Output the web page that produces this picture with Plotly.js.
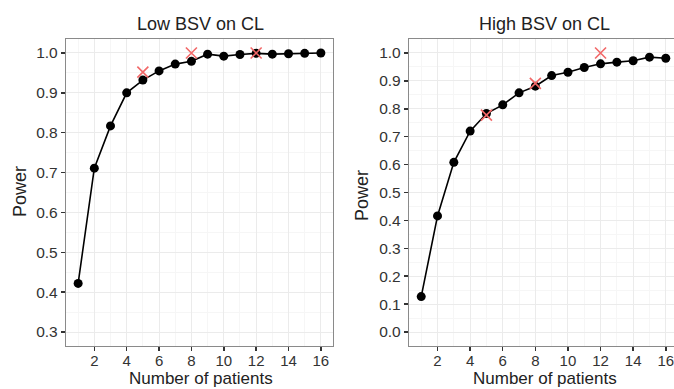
<!DOCTYPE html>
<html>
<head>
<meta charset="utf-8">
<script src="https://cdn.plot.ly/plotly-3.0.1.min.js"></script>
<style>
html,body{margin:0;padding:0;overflow:hidden;background:#fff;}
#chart{width:680px;height:389px;}
</style>
</head>
<body>
<div id="chart"></div>
<script>
// Data
const patients = [1,2,3,4,5,6,7,8,9,10,11,12,13,14,15,16];
const powerLow = [0.422,0.711,0.817,0.900,0.932,0.955,0.972,0.979,0.997,0.992,0.996,0.999,0.997,0.998,0.999,1.000];
const powerHigh = [0.127,0.416,0.608,0.720,0.783,0.814,0.857,0.881,0.919,0.931,0.948,0.961,0.967,0.972,0.985,0.981];
const crossN = [5,8,12];
const crossLow = [0.952,1.000,1.000];
const crossHigh = [0.777,0.891,1.000];
const panelTitles = ["Low BSV on CL","High BSV on CL"];
const xTitle = "Number of patients";
const yTitle = "Power";

const W = 680, H = 389;
const lineStyle = {color:'#000', width:1.6};
const ptStyle = {color:'#000', size:9};
const crossStyle = {color:'#f26868', size:11, symbol:'x-thin', line:{color:'#f26868', width:1.6}};

const traces = [
  {x:patients, y:powerLow, mode:'lines+markers', line:lineStyle, marker:ptStyle, xaxis:'x', yaxis:'y'},
  {x:crossN, y:crossLow, mode:'markers', marker:crossStyle, xaxis:'x', yaxis:'y'},
  {x:patients, y:powerHigh, mode:'lines+markers', line:lineStyle, marker:ptStyle, xaxis:'x2', yaxis:'y2'},
  {x:crossN, y:crossHigh, mode:'markers', marker:crossStyle, xaxis:'x2', yaxis:'y2'}
];

const tickFont = {family:'Liberation Sans, Arial, sans-serif', size:15.5, color:'#333'};
const xTickFont = {family:'Liberation Sans, Arial, sans-serif', size:15, color:'#333'};
const titleFont = {family:'Liberation Sans, Arial, sans-serif', size:18, color:'#222'};
const xTitleFont = {family:'Liberation Sans, Arial, sans-serif', size:17, color:'#222'};

function xAx(domain, anchor){
  return {domain:domain, anchor:anchor, range:[0.25,16.75], tickvals:[2,4,6,8,10,12,14,16],
    ticks:'outside', ticklen:4, tickwidth:1.5, tickcolor:'#333', tickfont:xTickFont, ticklabelstandoff:-3,
    showgrid:true, gridcolor:'#ebebeb', gridwidth:1, zeroline:false,
    minor:{tickvals:[1,3,5,7,9,11,13,15], showgrid:true, gridcolor:'#f6f6f6', gridwidth:1, ticks:''},
    showline:true, mirror:true, linecolor:'#8a8a8a', linewidth:1.2, automargin:false, fixedrange:true};
}
function yAx(domain, anchor, range, vals, minorVals){
  return {domain:domain, anchor:anchor, range:range, tickvals:vals, ticktext:vals.map(v=>v.toFixed(1)),
    ticks:'outside', ticklen:4, tickwidth:1.5, tickcolor:'#333', tickfont:tickFont,
    showgrid:true, gridcolor:'#ebebeb', gridwidth:1, zeroline:false,
    minor:{tickvals:minorVals, showgrid:true, gridcolor:'#f6f6f6', gridwidth:1, ticks:''},
    showline:true, mirror:true, linecolor:'#8a8a8a', linewidth:1.2, automargin:false, fixedrange:true};
}

const yDom = [(H-346)/H, (H-39)/H];
const x1Dom = [66/W, 333/W];
const x2Dom = [409/W, 678/W];

const layout = {
  width:W, height:H, margin:{l:0,r:0,t:0,b:0}, showlegend:false,
  paper_bgcolor:'#fff', plot_bgcolor:'#fff',
  xaxis: xAx(x1Dom,'y'),
  yaxis: yAx(yDom,'x',[0.265,1.035],[0.3,0.4,0.5,0.6,0.7,0.8,0.9,1.0],[0.35,0.45,0.55,0.65,0.75,0.85,0.95]),
  xaxis2: xAx(x2Dom,'y2'),
  yaxis2: yAx(yDom,'x2',[-0.05,1.05],[0,0.1,0.2,0.3,0.4,0.5,0.6,0.7,0.8,0.9,1.0],[0.05,0.15,0.25,0.35,0.45,0.55,0.65,0.75,0.85,0.95]),
  annotations:[
    {text:panelTitles[0], xref:'paper', yref:'paper', x:200/W, y:1-24/H, showarrow:false, font:titleFont, xanchor:'center', yanchor:'middle'},
    {text:panelTitles[1], xref:'paper', yref:'paper', x:544/W, y:1-24/H, showarrow:false, font:titleFont, xanchor:'center', yanchor:'middle'},
    {text:xTitle, xref:'paper', yref:'paper', x:201/W, y:0, showarrow:false, font:xTitleFont, xanchor:'center', yanchor:'bottom', borderpad:0},
    {text:xTitle, xref:'paper', yref:'paper', x:545/W, y:0, showarrow:false, font:xTitleFont, xanchor:'center', yanchor:'bottom', borderpad:0},
    {text:yTitle, xref:'paper', yref:'paper', x:20/W, y:1-192/H, showarrow:false, font:titleFont, textangle:-90, xanchor:'center', yanchor:'middle'},
    {text:yTitle, xref:'paper', yref:'paper', x:362/W, y:1-196/H, showarrow:false, font:titleFont, textangle:-90, xanchor:'center', yanchor:'middle'}
  ]
};

Plotly.newPlot('chart', traces, layout, {displayModeBar:false, staticPlot:true});
</script>
</body>
</html>
